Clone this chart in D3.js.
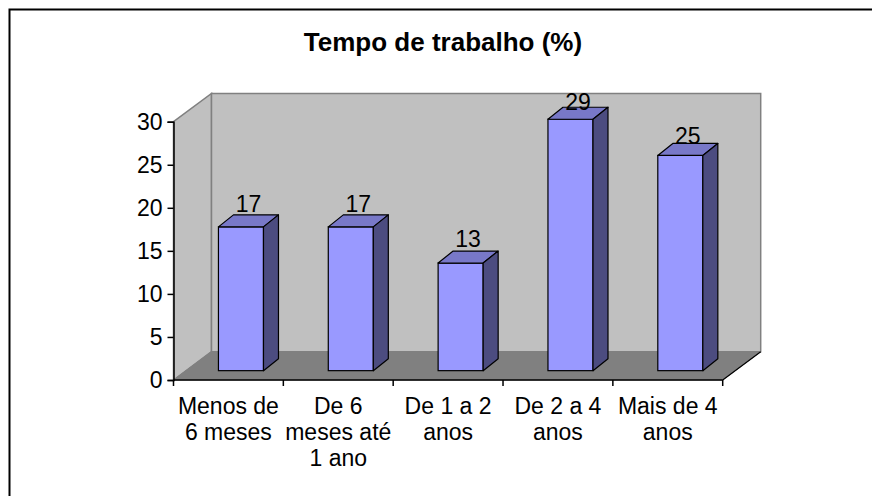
<!DOCTYPE html>
<html>
<head>
<meta charset="utf-8">
<script src="https://cdn.jsdelivr.net/npm/d3@7"></script>
<style>
  html, body { margin: 0; padding: 0; background: #fff; }
  text { font-family: "Liberation Sans", Arial, sans-serif; }
</style>
</head>
<body>
<script>
// ---- data ----
const title = "Tempo de trabalho (%)";
const categories = ["Menos de\n6 meses", "De 6\nmeses até\n1 ano", "De 1 a 2\nanos", "De 2 a 4\nanos", "Mais de 4\nanos"];
const values = [16.7, 16.7, 12.5, 29.2, 25];
const yTicks = [0, 5, 10, 15, 20, 25, 30];

// ---- layout ----
const W = 872, H = 496;
const x0 = 173.5, x1 = 722.7, yBase = 380, yTopPx = 121.7;
const dX = 38, dY = -28.3;          // floor / wall depth
const t0 = 0.33;                    // bar front plane depth fraction
const bdx = 15, bdy = -12;          // bar depth
const barFrac = 0.41;
const FS = 23;

const svg = d3.select("body").append("svg").attr("width", W).attr("height", H);

const y = d3.scaleLinear().domain([0, 30]).range([yBase, yTopPx]);
const yLab = d3.scaleLinear().domain([0, 30]).range([349.2, 103.2]);
const x = d3.scaleBand().domain(d3.range(categories.length)).range([x0, x1]);
const bw = x.bandwidth();
const barW = bw * barFrac;

const pts = a => a.map(p => p.join(",")).join(" ");

// frame
svg.append("rect").attr("x", 9.5).attr("y", 9.5).attr("width", 900).attr("height", 600)
  .attr("fill", "none").attr("stroke", "#000").attr("stroke-width", 2);

// title
svg.append("text").attr("x", 443).attr("y", 51).attr("text-anchor", "middle")
  .attr("font-size", 26).attr("font-weight", "bold").text(title);

const yT = y(30);
// left wall
svg.append("polygon").attr("points", pts([[x0, yT], [x0 + dX, yT + dY], [x0 + dX, yBase + dY], [x0, yBase]]))
  .attr("fill", "#C0C0C0").attr("stroke", "#808080").attr("stroke-width", 1.5);
// back wall
svg.append("polygon").attr("points", pts([[x0 + dX, yT + dY], [x1 + dX, yT + dY], [x1 + dX, yBase + dY], [x0 + dX, yBase + dY]]))
  .attr("fill", "#C0C0C0").attr("stroke", "#808080").attr("stroke-width", 1.5);
// floor
svg.append("polygon").attr("points", pts([[x0, yBase], [x0 + dX, yBase + dY], [x1 + dX, yBase + dY], [x1, yBase]]))
  .attr("fill", "#808080").attr("stroke", "#808080").attr("stroke-width", 1);
svg.append("line").attr("x1", x1).attr("y1", yBase).attr("x2", x1 + dX).attr("y2", yBase + dY)
  .attr("stroke", "#000").attr("stroke-width", 1.2);

// bars
const g = svg.append("g");
values.forEach((v, i) => {
  const bx = x(i) + (bw - barW) / 2 + t0 * dX;
  const by0 = yBase + t0 * dY;
  const by1 = y(v) + t0 * dY;
  g.append("rect").attr("x", bx).attr("y", by1).attr("width", barW).attr("height", by0 - by1)
    .attr("fill", "#9999FF").attr("stroke", "#000").attr("stroke-width", 1.2);
  g.append("polygon").attr("points", pts([[bx, by1], [bx + bdx, by1 + bdy], [bx + barW + bdx, by1 + bdy], [bx + barW, by1]]))
    .attr("fill", "#7878C8").attr("stroke", "#000").attr("stroke-width", 1.2).attr("stroke-linejoin", "round");
  g.append("polygon").attr("points", pts([[bx + barW, by1], [bx + barW + bdx, by1 + bdy], [bx + barW + bdx, by0 + bdy], [bx + barW, by0]]))
    .attr("fill", "#4C4C80").attr("stroke", "#000").attr("stroke-width", 1.2).attr("stroke-linejoin", "round");
  g.append("text").attr("x", bx + barW / 2 + bdx / 2).attr("y", yLab(v))
    .attr("text-anchor", "middle").attr("font-size", FS).text(Math.round(v));
});

// y axis
const yAxis = d3.axisLeft(y).tickValues(yTicks).tickSize(6).tickPadding(5);
const ya = svg.append("g").attr("transform", `translate(${x0},0)`).call(yAxis);
ya.select(".domain").attr("stroke", "#000").attr("stroke-width", 1.5);
ya.selectAll(".tick line").attr("stroke", "#000").attr("stroke-width", 1.5);
ya.selectAll(".tick text").attr("font-size", FS).attr("font-family", "Liberation Sans, Arial, sans-serif").attr("fill", "#000");

// x axis
svg.append("line").attr("x1", x0).attr("y1", yBase).attr("x2", x1).attr("y2", yBase)
  .attr("stroke", "#000").attr("stroke-width", 1.5);
const xb = d3.range(categories.length + 1).map(i => i < categories.length ? x(i) : x1);
svg.selectAll(".xt").data(xb).enter().append("line")
  .attr("x1", d => d).attr("x2", d => d).attr("y1", yBase).attr("y2", yBase + 6)
  .attr("stroke", "#000").attr("stroke-width", 1.5);

categories.forEach((c, i) => {
  const t = svg.append("text").attr("text-anchor", "middle").attr("font-size", FS);
  c.split("\n").forEach((ln, k) => {
    t.append("tspan").attr("x", x(i) + bw / 2).attr("y", 414 + k * 26).text(ln);
  });
});
</script>
</body>
</html>
